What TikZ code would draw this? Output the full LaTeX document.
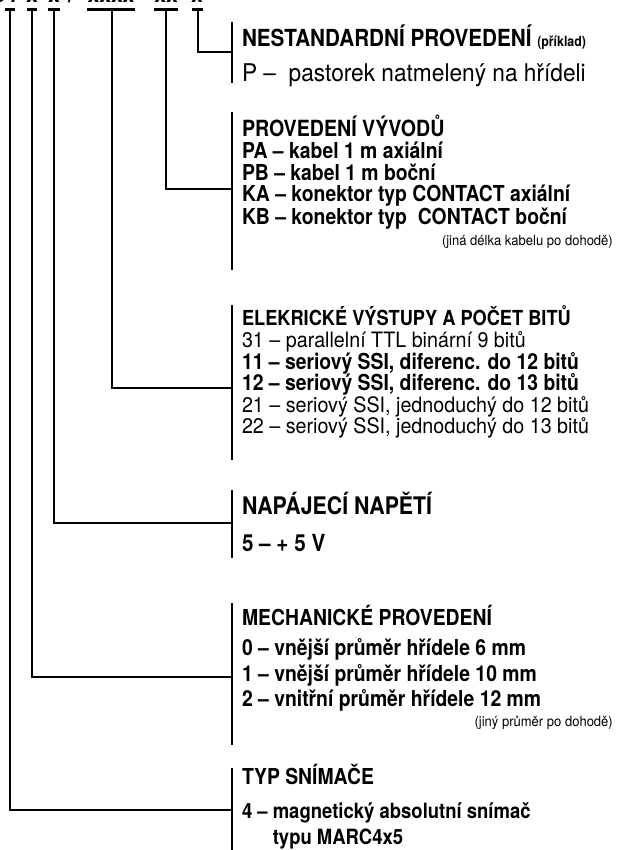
\documentclass[tikz,border=0pt]{standalone}
\usepackage{fontspec}
\setmainfont{texgyreheros-regular}[Extension=.otf, FakeStretch=0.93]
\newfontfamily\hb{texgyreheros-bold}[Extension=.otf, FakeStretch=0.88]
\begin{document}
\begin{tikzpicture}[x=1pt,y=-1pt]
\tikzset{
  conn/.style={line width=2.2pt, line cap=butt, line join=miter, black},
  bar/.style={line width=2.4pt, line cap=butt, black},
  txt/.style={anchor=base west, inner sep=0pt, outer sep=0pt},
  hdr/.style={anchor=base, inner sep=0pt, font=\hb\fontsize{24}{26}\selectfont},
  bt/.style={txt, font=\hb\fontsize{#1}{#1}\selectfont},
  rt/.style={txt, font=\fontsize{#1}{#1}\selectfont},
  note/.style={anchor=base east, inner sep=0pt, font=\fontsize{#1}{#1}\selectfont}
}
\useasboundingbox (0,0) rectangle (616,850);

% header (only the bottoms of the glyphs are visible)
\node[hdr, anchor=base east] (hM) at (6,3) {MARC};
\node[hdr] (h1) at (11,3) {4};
\node[hdr] (h2) at (32,3) {x};
\node[hdr] (h3) at (54,3) {x};
\node[hdr] (h4) at (71,3) {/};
\node[hdr] (h5) at (111,3) {xxxx};
\node[hdr] (h6) at (166,3) {xx};
\node[hdr] (h7) at (197,3) {x};

% tick positions
\coordinate (tTYP) at (10,9.5);
\coordinate (tMEC) at (32,9.5);
\coordinate (tNAP) at (54,9.5);
\coordinate (tELE) at (112,9.5);
\coordinate (tVYV) at (166,9.5);
\coordinate (tNES) at (198,9.5);

\draw[conn] ([xshift=-5pt]tTYP) -- ([xshift=5pt]tTYP);
\draw[conn] ([xshift=-5pt]tMEC) -- ([xshift=5pt]tMEC);
\draw[conn] ([xshift=-6pt]tNAP) -- ([xshift=6pt]tNAP);
\draw[conn] ([xshift=-25pt]tELE) -- ([xshift=23pt]tELE);
\draw[conn] ([xshift=-12pt]tVYV) -- ([xshift=12pt]tVYV);
\draw[conn] ([xshift=-6pt]tNES) -- ([xshift=5pt]tNES);

% connection points on the bars
\coordinate (cNES) at (232,52);
\coordinate (cVYV) at (232,189);
\coordinate (cELE) at (232,388);
\coordinate (cNAP) at (232,523);
\coordinate (cMEC) at (232,677);
\coordinate (cTYP) at (232,810);

\draw[conn] (tNES) |- (cNES);
\draw[conn] (tVYV) |- (cVYV);
\draw[conn] (tELE) |- (cELE);
\draw[conn] (tNAP) |- (cNAP);
\draw[conn] (tMEC) |- (cMEC);
\draw[conn] (tTYP) |- (cTYP);

% bars
\coordinate (bNES1) at (232,22);  \coordinate (bNES2) at (232,83);
\coordinate (bVYV1) at (232,112); \coordinate (bVYV2) at (232,270);
\coordinate (bELE1) at (232,305); \coordinate (bELE2) at (232,460);
\coordinate (bNAP1) at (232,490); \coordinate (bNAP2) at (232,558);
\coordinate (bMEC1) at (232,603); \coordinate (bMEC2) at (232,745);
\coordinate (bTYP1) at (232,768); \coordinate (bTYP2) at (232,851);
\draw[bar] (bNES1) -- (bNES2);
\draw[bar] (bVYV1) -- (bVYV2);
\draw[bar] (bELE1) -- (bELE2);
\draw[bar] (bNAP1) -- (bNAP2);
\draw[bar] (bMEC1) -- (bMEC2);
\draw[bar] (bTYP1) -- (bTYP2);

% NESTANDARDNI
\node[bt=23.5] (nesH) at (242,47) {NESTANDARDNÍ PROVEDENÍ {\fontsize{14}{16}\selectfont(příklad)}};
\node[rt=24.4] (nesP) at (242,82) {P –\ \ pastorek natmelený na hřídeli};

% VYVODY
\node[bt=22.3] (vyvH) at (242,137) {PROVEDENÍ VÝVODŮ};
\node[bt=22] (vyv1) at (242,159) {PA – kabel 1 m axiální};
\node[bt=22] (vyv2) at (242,181) {PB – kabel 1 m boční};
\node[bt=22] (vyv3) at (242,202) {KA – konektor typ CONTACT axiální};
\node[bt=22] (vyv4) at (242,224) {KB – konektor typ\ \ CONTACT boční};
\node[note=14] (vyvN) at (613,245) {(jiná délka kabelu po dohodě)};

% ELEKTRICKE
\node[bt=20.7] (eleH) at (242,325) {ELEKRICKÉ VÝSTUPY A POČET BITŮ};
\node[rt=21.2] (ele1) at (242,347) {31 – parallelní TTL binární 9 bitů};
\node[bt=22] (ele2) at (242,369) {11 – seriový SSI, diferenc. do 12 bitů};
\node[bt=22] (ele3) at (242,390) {12 – seriový SSI, diferenc. do 13 bitů};
\node[rt=21.2] (ele4) at (242,412) {21 – seriový SSI, jednoduchý do 12 bitů};
\node[rt=21.2] (ele5) at (242,433) {22 – seriový SSI, jednoduchý do 13 bitů};

% NAPAJECI
\node[bt=24.2] (napH) at (242,514) {NAPÁJECÍ NAPĚTÍ};
\node[bt=23.5] (nap1) at (242,551) {5 – + 5 V};

% MECHANICKE
\node[bt=22] (mecH) at (242,625) {MECHANICKÉ PROVEDENÍ};
\node[bt=22] (mec1) at (242,655) {0 – vnější průměr hřídele 6 mm};
\node[bt=22] (mec2) at (242,681) {1 – vnější průměr hřídele 10 mm};
\node[bt=22] (mec3) at (242,706) {2 – vnitřní průměr hřídele 12 mm};
\node[note=14] (mecN) at (613,726) {(jiný průměr po dohodě)};

% TYP
\node[bt=22] (typH) at (242,784) {TYP SNÍMAČE};
\node[bt=21] (typ1) at (242,818) {4 – magnetický absolutní snímač};
\node[bt=21] (typ2) at (242,844) {\phantom{4 – }typu MARC4x5};
\end{tikzpicture}
\end{document}
